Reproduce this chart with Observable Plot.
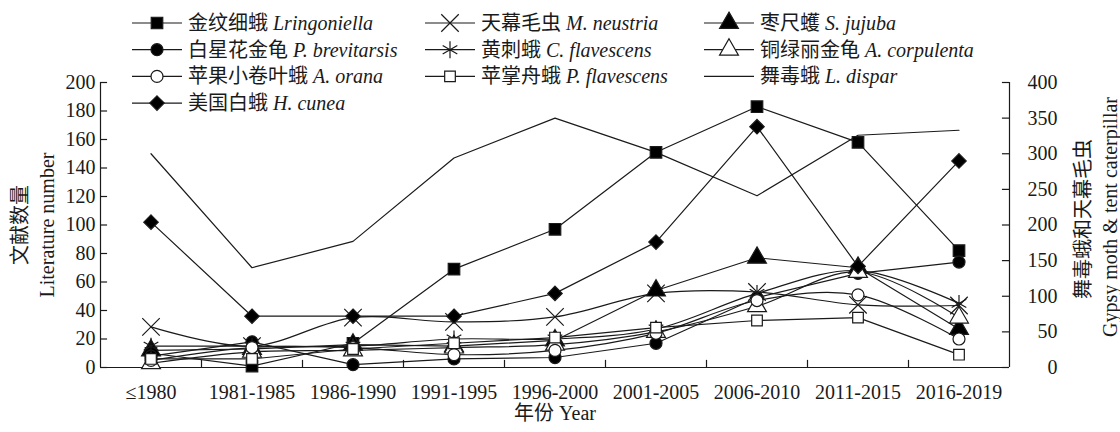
<!DOCTYPE html>
<html>
<head>
<meta charset="utf-8">
<script src="https://cdn.jsdelivr.net/npm/d3@7"></script>
<script src="https://cdn.jsdelivr.net/npm/@observablehq/plot@0.6"></script>
<style>
  body { margin: 0; background: #fff; }
  #chart { position: relative; width: 1120px; height: 432px; background: #fff;
           font-family: "Liberation Serif", "Noto Sans CJK SC", serif; }
  #chart svg { position: absolute; left: 0; top: 0; }
</style>
</head>
<body>
<div id="chart"></div>
<script>
// Publication periods (x categories)
const periods = ["≤1980", "1981-1985", "1986-1990", "1991-1995", "1996-2000",
                 "2001-2005", "2006-2010", "2011-2015", "2016-2019"];

// Tick values for the two y axes
const leftTicks = [0, 20, 40, 60, 80, 100, 120, 140, 160, 180, 200];
const rightTicks = [0, 50, 100, 150, 200, 250, 300, 350, 400];

// Literature counts, left axis
const lringoniella = [10, 1, 17, 69, 97, 151, 183, 158, 82];
const brevitarsis  = [8, 18, 2, 6, 7, 17, 49, 66, 74];
const orana        = [5, 14, 14, 9, 12, 24, 47, 51, 20];
const cunea        = [102, 36, 36, 36, 52, 88, 169, 71, 145];
const cFlavescens  = [15, 15, 15, 20, 20, 27, 52, 68, 45];
const pFlavescens  = [6, 6, 13, 17, 21, 28, 33, 35, 9];
const jujuba       = [12, 13, 16, 15, 19, 54, 77, 70, 27];
const corpulenta   = [3, 11, 12, 14, 16, 25, 43, 67, 35];

// Literature counts, right axis (gypsy moth & tent caterpillar)
const neustria     = [57, 30, 70, 64, 71, 104, 106, 88, 87];
const dispar       = [300, 140, 177, 294, 350, 302, 241, 326, 333];

// Series in legend order (row by row, three per row)
const series = [
  {name: "金纹细蛾",     latin: "Lringoniella",   values: lringoniella, symbol: "square",   fill: "black", r: 6.5},
  {name: "天幕毛虫",     latin: "M. neustria",    values: neustria,     symbol: "times",    fill: "none",  r: 8, right: true, smooth: true},
  {name: "枣尺蠖",       latin: "S. jujuba",      values: jujuba,       symbol: "triangle", fill: "black", r: 7},
  {name: "白星花金龟",   latin: "P. brevitarsis", values: brevitarsis,  symbol: "circle",   fill: "black", r: 6},
  {name: "黄刺蛾",       latin: "C. flavescens",  values: cFlavescens,  symbol: "asterisk", fill: "none",  r: 8, smooth: true},
  {name: "铜绿丽金龟",   latin: "A. corpulenta",  values: corpulenta,   symbol: "triangle", fill: "white", r: 7, smooth: true},
  {name: "苹果小卷叶蛾", latin: "A. orana",       values: orana,        symbol: "circle",   fill: "white", r: 6, smooth: true},
  {name: "苹掌舟蛾",     latin: "P. flavescens",  values: pFlavescens,  symbol: "square",   fill: "white", r: 6},
  {name: "舞毒蛾",       latin: "L. dispar",      values: dispar,       symbol: null,       right: true},
  {name: "美国白蛾",     latin: "H. cunea",       values: cunea,        symbol: "diamond2", fill: "black", r: 6.5}
];

// Right-axis values are halved so both axes share one y scale (0–200 ↔ 0–400)
const rowsOf = s => s.values.map((v, i) => ({name: s.name, i, y: s.right ? v / 2 : v}));
const boundaries = d3.range(8).map(i => i + 0.5);
const ink = "#1a1a1a";
const sw = 1.2;
const label = {fontSize: 20, fill: ink, lineAnchor: "middle"};

const marks = [];

// frame: both vertical axes and the baseline
marks.push(Plot.ruleX([-0.5, 8.5], {y1: 0, y2: 200, stroke: ink, strokeWidth: sw}));
marks.push(Plot.ruleY([0], {x1: -0.5, x2: 8.5, stroke: ink, strokeWidth: sw}));
// inward ticks
marks.push(Plot.ruleX(boundaries, {y1: 0, y2: 5, stroke: ink, strokeWidth: sw}));
marks.push(Plot.ruleY(leftTicks, {x1: -0.5, x2: -0.43, stroke: ink, strokeWidth: sw}));
marks.push(Plot.ruleY(rightTicks, {y: d => d / 2, x1: 8.43, x2: 8.5, stroke: ink, strokeWidth: sw}));

// series lines
for (const s of series) {
  marks.push(Plot.line(rowsOf(s), {
    x: "i", y: "y", curve: s.smooth ? "catmull-rom" : "linear",
    stroke: ink, strokeWidth: sw
  }));
}
// series markers
for (const s of series) {
  if (!s.symbol) continue;
  marks.push(Plot.dot(rowsOf(s), {
    x: "i", y: "y", symbol: s.symbol, r: s.r,
    fill: s.fill, stroke: ink, strokeWidth: sw
  }));
}

// tick labels
marks.push(Plot.text(d3.range(periods.length), {
  x: d => d, frameAnchor: "bottom", text: i => periods[i], dy: 25, textAnchor: "middle", ...label
}));
marks.push(Plot.text(leftTicks, {
  y: d => d, frameAnchor: "left", text: d => `${d}`, textAnchor: "end", dx: -5, ...label
}));
marks.push(Plot.text(rightTicks, {
  y: d => d / 2, frameAnchor: "right", text: d => `${d}`, textAnchor: "end", dx: 48, ...label
}));

// axis titles
marks.push(Plot.text(["文献数量"], {frameAnchor: "left", rotate: -90, textAnchor: "middle", dx: -80, ...label}));
marks.push(Plot.text(["Literature number"], {frameAnchor: "left", rotate: -90, textAnchor: "middle", dx: -53, ...label}));
marks.push(Plot.text(["舞毒蛾和天幕毛虫"], {frameAnchor: "right", rotate: -90, textAnchor: "middle", dx: 74, dy: -6, ...label}));
marks.push(Plot.text(["Gypsy moth & tent caterpillar"], {frameAnchor: "right", rotate: -90, textAnchor: "middle", dx: 101, dy: -8, ...label}));
marks.push(Plot.text(["年份 Year"], {frameAnchor: "bottom", textAnchor: "middle", dy: 46, ...label}));

const chart = Plot.plot({
  width: 1120,
  height: 432,
  marginLeft: 100,
  marginRight: 111,
  marginTop: 82,
  marginBottom: 65,
  x: {type: "linear", domain: [-0.5, 8.5], axis: null},
  y: {type: "linear", domain: [0, 200], axis: null},
  style: {fontFamily: '"Liberation Serif", "Noto Sans CJK SC", serif', fontSize: "20px", background: "white", overflow: "visible"},
  marks
});
document.getElementById("chart").appendChild(chart);

// legend: three columns, drawn over the top of the chart
const symbolTypes = {
  square: d3.symbolSquare, circle: d3.symbolCircle, triangle: d3.symbolTriangle,
  diamond2: d3.symbolDiamond2, times: d3.symbolTimes, asterisk: d3.symbolAsterisk
};
const legendX = [132, 425, 704];
const legendTop = 23, legendStep = 26.7;

const legend = d3.select("#chart").append("svg")
  .attr("width", 1120).attr("height", 125)
  .style("pointer-events", "none")
  .attr("font-family", '"Liberation Serif", "Noto Sans CJK SC", serif')
  .attr("font-size", 20);

series.forEach((s, k) => {
  const g = legend.append("g")
    .attr("transform", `translate(${legendX[k % 3]},${legendTop + Math.floor(k / 3) * legendStep})`);
  g.append("line").attr("x1", 0).attr("x2", 50).attr("stroke", ink).attr("stroke-width", sw);
  if (s.symbol) {
    g.append("path")
      .attr("transform", "translate(25,0)")
      .attr("d", d3.symbol(symbolTypes[s.symbol], Math.PI * s.r * s.r)())
      .attr("fill", s.fill).attr("stroke", ink).attr("stroke-width", sw);
  }
  const t = g.append("text").attr("x", 56).attr("dy", "0.35em").attr("fill", ink);
  t.append("tspan").text(s.name + " ");
  t.append("tspan").attr("font-style", "italic").text(s.latin);
});
</script>
</body>
</html>
